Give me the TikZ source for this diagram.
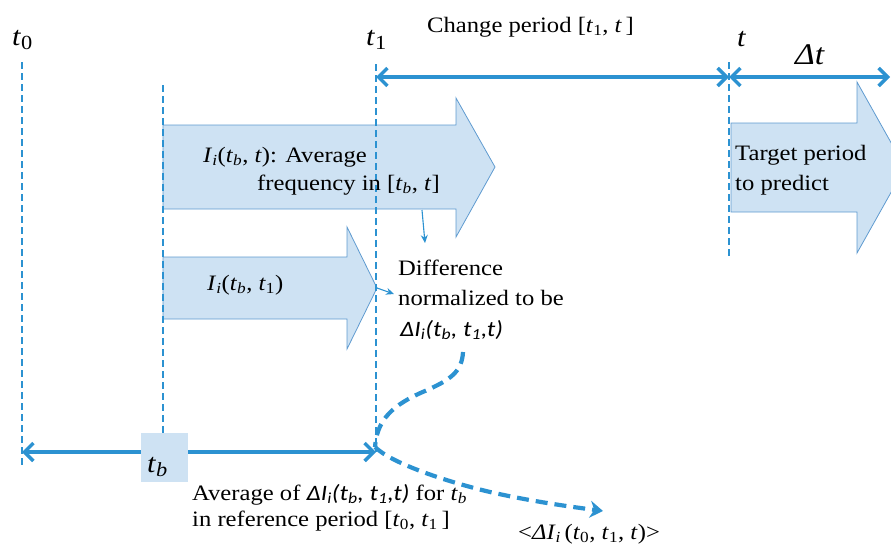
\documentclass[tikz,border=0pt]{standalone}
\usepackage{fontspec}
\setmainfont{Liberation Serif}[FakeStretch=1.12]
\newfontfamily\carl{Carlito}[FakeStretch=1.15]
\usetikzlibrary{arrows.meta}
\definecolor{lblue}{RGB}{44,146,209}
\definecolor{afill}{RGB}{206,226,243}
\definecolor{aedge}{RGB}{95,155,208}
\newcommand{\vi}[1]{\textit{#1}}
\newcommand{\lo}[1]{\textsubscript{#1}}
\newcommand{\blo}[1]{\raisebox{-0.4ex}{\fontsize{20}{20}\selectfont #1}}
\newcommand{\dI}{{\carl\itshape ΔI\lo{i}(t\lo{b}, t\lo{1},t)}}
\begin{document}
\begin{tikzpicture}[x=1pt,y=-1pt,
 txt/.style={inner sep=0pt, anchor=base west, font=\fontsize{22}{26}\selectfont},
 lab/.style={inner sep=0pt, anchor=base west, font=\fontsize{27}{30}\selectfont},
 vthick/.style={lblue, line width=2.6pt, dash pattern=on 7pt off 4pt},
 vthin/.style={lblue, line width=1.4pt, dash pattern=on 7pt off 4pt},
 dbl/.style={lblue, line width=3.5pt, {Straight Barb[length=9pt,width=18pt]}-{Straight Barb[length=9pt,width=18pt]}},
 blockarrow/.style={fill=afill, draw=aedge, line width=0.8pt},
 thinarrow/.style={lblue, line width=1.1pt, -{Stealth[length=8pt,width=7pt]}},
 curvy/.style={lblue, line width=4.2pt, dash pattern=on 12pt off 7pt}]
\path[use as bounding box] (0,0) rectangle (891,549);
\clip (0,0) rectangle (891,549);
% block arrows
\draw[blockarrow] (163,125) -- (456,125) -- (456,98) -- (495,167) -- (456,237) -- (456,209) -- (163,209) -- cycle;
\draw[blockarrow] (163,257) -- (347,257) -- (347,227) -- (377,288) -- (347,349) -- (347,319) -- (163,319) -- cycle;
\draw[blockarrow] (731,123) -- (857,123) -- (857,82) -- (905,167.5) -- (857,253) -- (857,212) -- (731,212) -- cycle;
% coordinates
\coordinate (t0top) at (22,62);
\coordinate (t0bot) at (22,466);
\coordinate (tbtop) at (163,85);
\coordinate (tbbot) at (163,433);
\coordinate (t1top) at (376,64);
\coordinate (t1bot) at (376,452);
\coordinate (ttop) at (729,62);
\coordinate (tbot) at (729,258);
\coordinate (b0) at (22,452);
\coordinate (b1) at (376,452);
\coordinate (u0) at (376,77);
\coordinate (u1) at (729,77);
\coordinate (u2) at (890,77);
\coordinate (s1a) at (422,210);
\coordinate (s1b) at (425,243);
\coordinate (s2a) at (377,288);
\coordinate (s2b) at (394,294);
\coordinate (cA) at (463,352);
\coordinate (cM) at (425,391);
\coordinate (cB) at (375,447);
\coordinate (cN) at (490,492);
\coordinate (cC) at (603,511);
% vertical dashed lines
\draw[vthick] (t0top) -- (t0bot);
\draw[vthin] (tbtop) -- (tbbot);
\draw[vthick] (t1top) -- (t1bot);
\draw[vthin] (ttop) -- (tbot);
% double arrows
\draw[dbl] (u0) -- (u1);
\draw[dbl] (u1) -- (u2);
\draw[dbl] (b0) -- (b1);
% t_b box
\node[fill=afill, minimum width=47pt, minimum height=49pt, inner sep=0pt] (tbbox) at (164.5,457.5) {};
\node[lab] (ltb) at (147,472) {\vi{t}\blo{\vi{b}}};
% thin arrows
\draw[thinarrow] (s1a) -- (s1b);
\draw[thinarrow] (s2a) -- (s2b);
% curved dashed
\draw[curvy] (cA) .. controls (462,372) and (450,380) .. (cM) .. controls (392,405) and (377,420) .. (cB);
\draw[curvy, -{Stealth[length=13pt,width=17pt]}] (cB) .. controls (390,462) and (440,480) .. (cN) .. controls (530,501) and (565,506) .. (cC);
% labels
\node[lab] (lt0) at (12,45) {\vi{t}\blo{0}};
\node[lab] (lt1) at (366,45) {\vi{t}\blo{1}};
\node[lab] (lt) at (737,46) {\vi{t}};
\node[lab, font=\fontsize{30}{34}\selectfont] (ldt) at (795,64) {\vi{Δt}};
\node[txt] (chg) at (427,32) {Change period [\vi{t}\lo{1}, \vi{t}\,]};
\node[txt] (a1l1) at (203,162) {\vi{I}\lo{\vi{i}}(\vi{t}\lo{\vi{b}}, \vi{t}): Average};
\node[txt] (a1l2) at (257,190) {frequency in [\vi{t}\lo{\vi{b}}, \vi{t}]};
\node[txt] (a2l) at (207,290) {\vi{I}\lo{\vi{i}}(\vi{t}\lo{\vi{b}}, \vi{t}\lo{1})};
\node[txt] (tg1) at (735,160) {Target period};
\node[txt] (tg2) at (735,190) {to predict};
\node[txt] (df1) at (398,275) {Difference};
\node[txt] (df2) at (398,305) {normalized to be};
\node[txt] (df3) at (400,336) {\dI};
\node[txt] (av1) at (192,500) {Average of \dI{} for \vi{t}\lo{\vi{b}}};
\node[txt] (av2) at (192,526) {in reference period [\vi{t}\lo{0}, \vi{t}\lo{1}\,]};
\node[txt] (avg) at (518,539) {<\vi{ΔI}\lo{\vi{i}}\,(\vi{t}\lo{0}, \vi{t}\lo{1}, \vi{t})>};
\end{tikzpicture}
\end{document}
